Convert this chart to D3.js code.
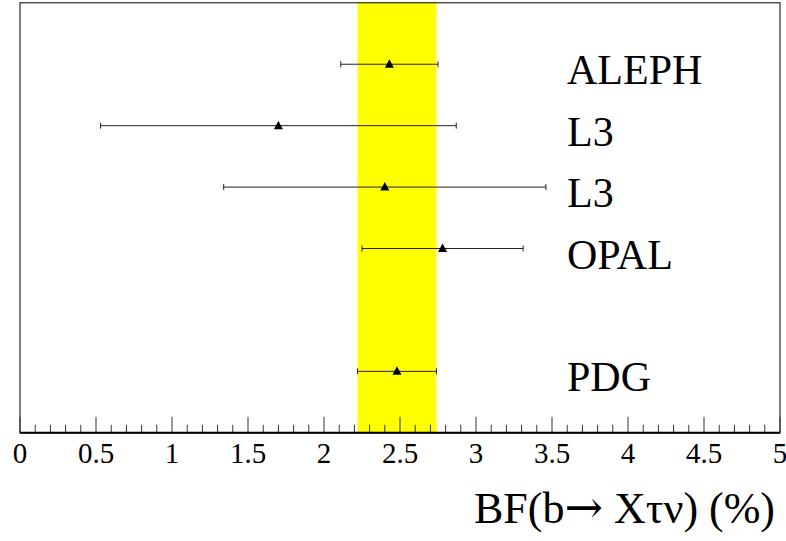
<!DOCTYPE html>
<html><head><meta charset="utf-8">
<script src="https://cdn.jsdelivr.net/npm/d3@7"></script>
<style>
body { margin: 0; background: #fff; }
svg { display: block; }
svg text, svg tspan { font-family: "Liberation Serif", "Times New Roman", Tinos, serif !important; }
svg tspan.arrow { font-family: "DejaVu Serif", serif !important; }
</style>
</head><body>
<script>
const experiments = ["ALEPH", "L3", "L3", "OPAL", "PDG"];
const rows = [6, 5, 4, 3, 1];
const centralValues = [2.43, 1.70, 2.40, 2.78, 2.48];
const lowErrors = [0.32, 1.17, 1.06, 0.53, 0.26];
const highErrors = [0.32, 1.17, 1.06, 0.53, 0.26];
const bandRange = [2.22, 2.74];
const xTicks = [0, 0.5, 1, 1.5, 2, 2.5, 3, 3.5, 4, 4.5, 5];
const xTickLabels = ["0", "0.5", "1", "1.5", "2", "2.5", "3", "3.5", "4", "4.5", "5"];
const xTitleParts = ["BF(b", "\u2192", " X\u03C4\u03BD) (%)"];

const W = 786, H = 541;
const svg = d3.select("body").append("svg").attr("width", W).attr("height", H);
const x = d3.scaleLinear().domain([0, 5]).range([20, 780]);
const y = d3.scaleLinear().domain([0, 7]).range([432.8, 2.8]);

// band
svg.append("rect").attr("x", x(bandRange[0])).attr("y", y(7))
  .attr("width", x(bandRange[1]) - x(bandRange[0])).attr("height", y(0) - y(7))
  .attr("fill", "#ffff00");

// frame
svg.append("rect").attr("x", x(0)).attr("y", y(7)).attr("width", x(5) - x(0)).attr("height", y(0) - y(7))
  .attr("fill", "none").attr("stroke", "#000").attr("stroke-width", 1);

// axis: major & minor ticks
const minor = d3.range(0, 50).map(i => i / 10).filter(v => Math.abs(v * 2 - Math.round(v * 2)) > 1e-6);
const axisG = svg.append("g");
axisG.selectAll("line.minor").data(minor).join("line")
  .attr("x1", d => x(d)).attr("x2", d => x(d)).attr("y1", y(0)).attr("y2", y(0) - 8)
  .attr("stroke", "#333").attr("stroke-width", 1);
axisG.selectAll("line.major").data(xTicks).join("line")
  .attr("x1", d => x(d)).attr("x2", d => x(d)).attr("y1", y(0)).attr("y2", y(0) - 16)
  .attr("stroke", "#333").attr("stroke-width", 1);
axisG.append("line").attr("x1", x(0)).attr("x2", x(5)).attr("y1", y(0)).attr("y2", y(0))
  .attr("stroke", "#000").attr("stroke-width", 2);
axisG.selectAll("text").data(xTicks).join("text")
  .attr("x", d => x(d)).attr("y", 463).attr("text-anchor", "middle")
  .attr("font-size", 29)
  .text((d, i) => xTickLabels[i]);

const title = svg.append("text").attr("x", 775).attr("y", 523).attr("text-anchor", "end")
  .attr("font-size", 44);
title.append("tspan").text(xTitleParts[0]);
title.append("tspan").attr("class", "arrow").attr("font-size", 46).text(xTitleParts[1]);
title.append("tspan").text(xTitleParts[2]);

// error bars
const g = svg.append("g");
experiments.forEach((name, i) => {
  const yy = y(rows[i]);
  const lo = centralValues[i] - lowErrors[i], hi = centralValues[i] + highErrors[i];
  g.append("line").attr("x1", x(lo)).attr("x2", x(hi)).attr("y1", yy).attr("y2", yy)
    .attr("stroke", "#222").attr("stroke-width", 1);
  [lo, hi].forEach(v => g.append("line").attr("x1", x(v)).attr("x2", x(v))
    .attr("y1", yy - 3).attr("y2", yy + 3).attr("stroke", "#222").attr("stroke-width", 1));
  const cx = x(centralValues[i]);
  g.append("path").attr("d", `M${cx - 4.5},${yy + 3.5}L${cx + 4.5},${yy + 3.5}L${cx},${yy - 5}Z`).attr("fill", "#000");
  g.append("text").attr("x", 567).attr("y", yy + 20)
    .attr("font-size", 42).text(name);
});
</script>
</body></html>
